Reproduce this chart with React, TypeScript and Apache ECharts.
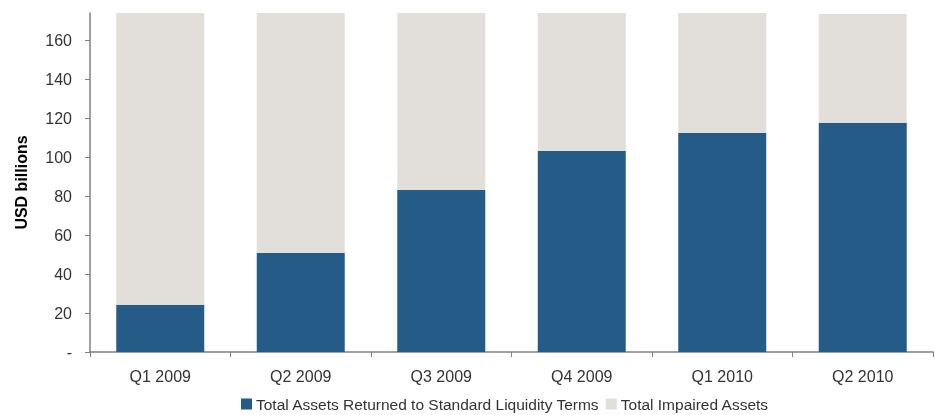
import React, { useEffect, useRef } from "react";
import * as echarts from "echarts";

const categories = ["Q1 2009", "Q2 2009", "Q3 2009", "Q4 2009", "Q1 2010", "Q2 2010"];
const returnedAssets = [24.3, 50.8, 83.2, 103.3, 112.4, 117.7];
const impairedAssets = [149.7, 123.2, 90.8, 70.7, 61.6, 55.8];
const yTicks = [0, 20, 40, 60, 80, 100, 120, 140, 160];

const FONT = "'Liberation Sans', Arial, sans-serif";
const TEXT = "#333333";
const AXIS = "#808080";

export default function App() {
  const ref = useRef<HTMLDivElement>(null);
  useEffect(() => {
    if (!ref.current) return;
    const chart = echarts.init(ref.current, null, { renderer: "svg" });
    chart.setOption({
      animation: false,
      textStyle: { fontFamily: FONT },
      grid: { left: 90, right: 2, top: 13, bottom: 63, containLabel: false },
      legend: {
        left: 241,
        top: 396,
        padding: 0,
        itemWidth: 11,
        itemHeight: 11,
        itemGap: 6,
        icon: "rect",
        textStyle: { fontFamily: FONT, fontSize: 15.5, color: TEXT, padding: [0, 0, 0, -1] },
        data: ["Total Assets Returned to Standard Liquidity Terms", "Total Impaired Assets"],
      },
      xAxis: {
        type: "category",
        data: categories,
        axisLine: { lineStyle: { color: AXIS, width: 1.5 } },
        axisTick: { show: true, length: 5, lineStyle: { color: AXIS } },
        axisLabel: { fontFamily: FONT, fontSize: 16, color: TEXT, margin: 16 },
      },
      yAxis: {
        type: "value",
        min: 0,
        max: 174,
        interval: 20,
        name: "USD billions",
        nameLocation: "middle",
        nameGap: 61,
        nameRotate: 90,
        nameTextStyle: { fontFamily: FONT, fontSize: 16, fontWeight: "bold", color: "#000" },
        splitLine: { show: false },
        axisLine: { show: true, lineStyle: { color: AXIS, width: 1.5 } },
        axisTick: { show: true, length: 5, lineStyle: { color: AXIS }, customValues: yTicks },
        axisLabel: {
          fontFamily: FONT,
          fontSize: 16,
          color: TEXT,
          margin: 18,
          customValues: yTicks,
          formatter: (v: number) => (v === 0 ? "-" : String(v)),
        },
      },
      series: [
        {
          name: "Total Assets Returned to Standard Liquidity Terms",
          type: "bar",
          stack: "total",
          barWidth: 88,
          itemStyle: { color: "#255B87" },
          data: returnedAssets,
        },
        {
          name: "Total Impaired Assets",
          type: "bar",
          stack: "total",
          barWidth: 88,
          itemStyle: { color: "#E2DFDA" },
          data: impairedAssets,
        },
      ],
    });
    return () => chart.dispose();
  }, []);
  return <div ref={ref} style={{ position: "fixed", left: 0, top: 0, width: 935, height: 415 }} />;
}
